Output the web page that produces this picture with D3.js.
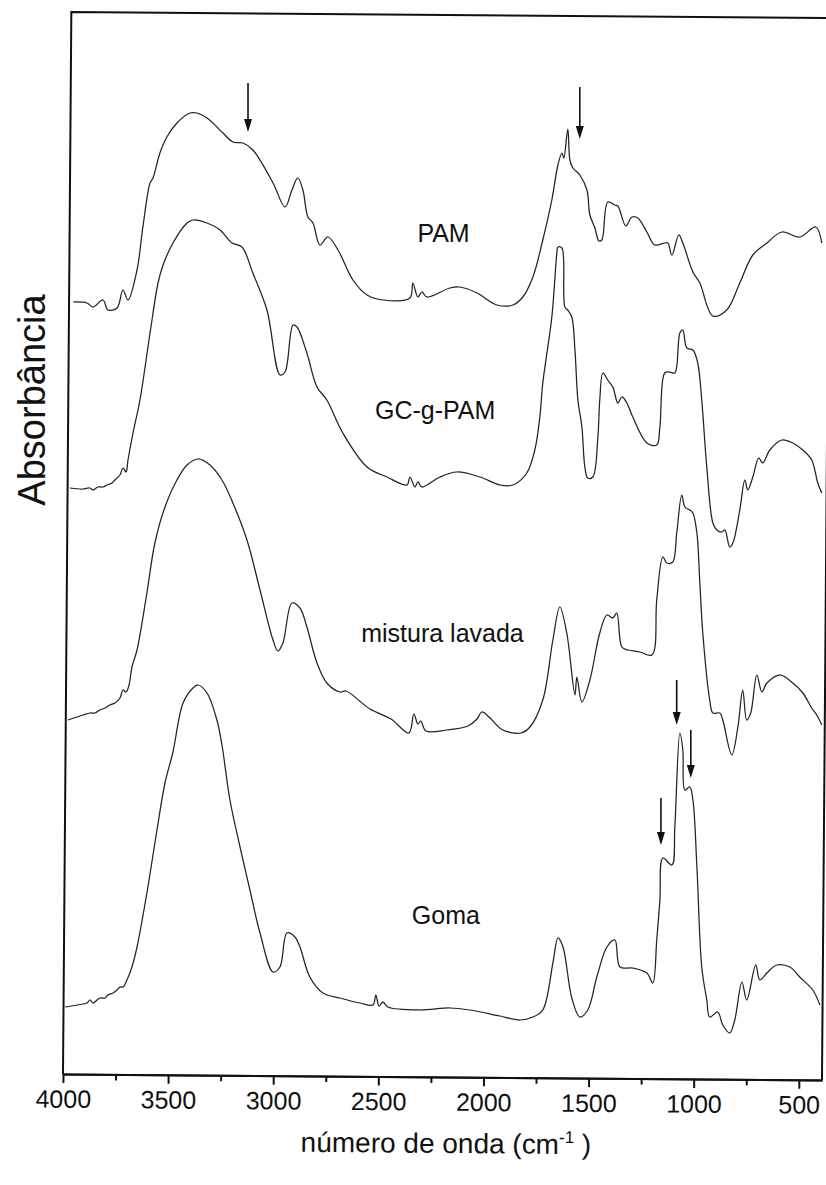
<!DOCTYPE html>
<html lang="pt">
<head>
<meta charset="utf-8">
<title>FTIR</title>
<script src="https://cdn.jsdelivr.net/npm/d3@7"></script>
<style>
  body { margin: 0; background: #fff; }
  svg { display: block; background: #fff; }
  .curve { fill: none; stroke: #222; stroke-width: 1.25; stroke-linejoin: round; }
  .frame { fill: none; stroke: #111; stroke-width: 2; }
  .axis path, .axis line { stroke: #111; stroke-width: 2; }
  .axis text { font-family: "Liberation Sans", Arial, sans-serif; font-size: 25px; fill: #111; }
  .lbl { font-family: "Liberation Sans", Arial, sans-serif; font-size: 25px; fill: #111; }
</style>
</head>
<body>
<svg id="chart"></svg>
<script>
// spectra: [wavenumber (cm-1), absorbance (a.u., stacked)]
var pamData = [
  [3952,7.74],[3886,7.73],[3857,7.69],[3810,7.76],[3786,7.66],[3743,7.68],[3715,7.86],[3691,7.76],
  [3648,8.06],[3620,8.49],[3586,8.93],[3572,8.98],[3539,9.23],[3506,9.39],[3458,9.53],[3396,9.63],
  [3363,9.63],[3315,9.58],[3239,9.43],[3192,9.34],[3144,9.33],[3097,9.26],[3001,8.93],[2944,8.69],
  [2911,8.86],[2883,8.98],[2859,8.86],[2835,8.59],[2811,8.53],[2778,8.31],[2740,8.39],[2692,8.26],
  [2621,7.96],[2554,7.81],[2478,7.76],[2350,7.78],[2336,7.93],[2312,7.79],[2293,7.84],[2269,7.79],
  [2160,7.88],[2112,7.89],[2031,7.83],[1936,7.71],[1860,7.71],[1813,7.79],[1765,7.99],[1718,8.36],
  [1675,8.76],[1646,9.11],[1627,9.23],[1618,9.18],[1599,9.47],[1589,9.16],[1575,9.08],[1542,9.01],
  [1508,8.86],[1494,8.61],[1470,8.48],[1451,8.35],[1437,8.36],[1409,8.74],[1375,8.71],[1361,8.70],
  [1323,8.50],[1294,8.59],[1266,8.58],[1223,8.44],[1185,8.31],[1138,8.33],[1123,8.33],[1104,8.21],
  [1071,8.41],[1052,8.33],[1004,8.04],[971,7.93],[909,7.60],[843,7.66],[781,7.93],[719,8.21],
  [652,8.33],[581,8.44],[496,8.39],[420,8.49],[391,8.33]
];
var gcData = [
  [3967,5.88],[3905,5.87],[3872,5.88],[3857,5.86],[3834,5.89],[3810,5.89],[3791,5.91],[3767,5.93],
  [3753,5.96],[3729,6.01],[3715,6.08],[3700,6.04],[3691,6.16],
  [3667,6.43],[3634,6.76],[3586,7.43],[3548,7.93],[3524,8.11],[3477,8.33],[3410,8.53],[3382,8.56],
  [3315,8.53],[3253,8.46],[3196,8.33],[3149,8.29],[3097,8.03],[3030,7.66],[2968,7.01],[2944,7.04],
  [2906,7.51],[2887,7.49],[2840,7.23],[2792,6.89],[2745,6.76],[2669,6.43],[2554,6.09],[2459,5.99],
  [2364,5.91],[2350,5.99],[2326,5.89],[2312,5.94],[2293,5.89],[2207,5.99],[2127,6.04],[2017,5.99],
  [1922,5.91],[1860,5.91],[1794,6.03],[1756,6.26],[1732,6.59],[1718,6.93],[1675,7.59],[1651,8.23],
  [1646,8.29],[1627,8.28],[1613,7.69],[1599,7.66],[1580,7.59],[1565,7.26],[1551,6.76],[1532,6.49],
  [1518,6.09],[1504,5.98],[1480,5.99],[1456,6.39],[1447,6.76],[1432,7.03],[1409,6.96],[1385,6.89],
  [1361,6.73],[1342,6.79],[1318,6.73],[1290,6.59],[1223,6.33],[1176,6.31],[1161,6.49],[1138,7.03],
  [1114,7.04],[1090,7.03],[1066,7.43],[1052,7.46],[1033,7.28],[1004,7.26],[981,7.13],[962,6.76],
  [938,6.09],[909,5.53],[890,5.46],[867,5.44],[852,5.46],[829,5.29],[814,5.33],[781,5.66],
  [757,5.96],[743,5.86],[719,5.99],[691,6.18],[672,6.13],[638,6.26],[581,6.36],[529,6.33],
  [481,6.26],[439,6.16],[410,5.93],[391,5.83]
];
var misturaData = [
  [3976,3.56],[3905,3.61],[3872,3.63],[3848,3.63],[3824,3.66],[3800,3.68],[3777,3.71],[3753,3.73],
  [3729,3.78],[3715,3.86],[3700,3.84],[3686,3.91],[3672,4.09],
  [3648,4.26],[3601,4.83],[3563,5.33],[3515,5.69],[3458,5.96],[3410,6.11],[3358,6.17],[3301,6.11],
  [3244,5.96],[3192,5.73],[3125,5.36],[3063,4.86],[3001,4.36],[2978,4.25],[2954,4.33],[2911,4.73],
  [2873,4.68],[2840,4.49],[2792,4.13],[2745,3.93],[2683,3.84],[2654,3.85],[2540,3.67],[2440,3.57],
  [2355,3.43],[2331,3.62],[2312,3.52],[2298,3.55],[2274,3.45],[2174,3.46],[2074,3.50],[2031,3.57],
  [2008,3.64],[1974,3.59],[1908,3.46],[1822,3.43],[1779,3.49],[1718,3.76],[1670,4.36],[1637,4.69],
  [1604,4.43],[1565,3.81],[1556,3.99],[1532,3.74],[1494,3.96],[1447,4.43],[1413,4.61],[1385,4.58],
  [1366,4.63],[1342,4.29],[1313,4.26],[1256,4.24],[1199,4.21],[1176,4.76],[1147,5.19],[1128,5.13],
  [1100,5.14],[1081,5.43],[1057,5.81],[1042,5.69],[1019,5.66],[1004,5.63],[985,5.43],[971,4.93],
  [957,4.43],[924,3.76],[909,3.63],[876,3.63],[862,3.56],[819,3.21],[790,3.49],[767,3.86],
  [748,3.56],[729,3.63],[700,4.01],[676,3.84],[652,3.93],[591,4.01],[529,3.93],[481,3.83],
  [439,3.68],[415,3.61],[391,3.51]
];
var gomaData = [
  [3990,0.69],[3933,0.71],[3886,0.73],[3872,0.76],[3857,0.73],[3838,0.76],[3824,0.78],[3800,0.78],
  [3786,0.81],[3762,0.83],[3743,0.86],[3729,0.89],[3715,0.89],[3696,0.96],[3672,1.09],
  [3648,1.29],[3601,1.83],[3553,2.46],[3515,2.93],[3477,3.24],[3429,3.73],[3382,3.88],[3358,3.91],
  [3315,3.83],[3268,3.56],[3244,3.31],[3206,2.76],[3158,2.29],[3111,1.86],[3063,1.43],[3001,1.04],
  [2968,1.09],[2935,1.43],[2897,1.39],[2873,1.29],[2826,0.99],[2764,0.83],[2683,0.78],[2588,0.73],
  [2526,0.71],[2512,0.81],[2497,0.70],[2478,0.74],[2455,0.69],[2302,0.66],[2160,0.68],[2065,0.66],
  [1922,0.60],[1827,0.56],[1765,0.59],[1718,0.66],[1670,1.13],[1646,1.38],[1622,1.29],[1580,0.78],
  [1542,0.59],[1504,0.66],[1461,0.99],[1413,1.29],[1375,1.36],[1351,1.09],[1290,1.08],[1223,1.03],
  [1195,0.93],[1176,1.36],[1161,1.76],[1147,2.18],[1104,2.11],[1090,2.49],[1066,3.43],[1052,3.26],
  [1042,2.86],[1019,2.89],[1004,2.76],[985,2.09],[962,1.09],[938,0.76],[924,0.59],[886,0.64],
  [862,0.51],[829,0.43],[805,0.56],[771,0.94],[748,0.76],[705,1.11],[686,0.96],[652,1.03],
  [605,1.11],[543,1.09],[496,0.99],[434,0.86],[400,0.71]
];
var seriesNames = ["PAM", "GC-g-PAM", "mistura lavada", "Goma"];
// arrows: [wavenumber, top absorbance, tip absorbance]
var arrowMarks = [
  [3120, 9.93, 9.44], [1542, 9.89, 9.37],
  [1156, 2.78, 2.31], [1081, 3.96, 3.51], [1014, 3.46, 2.98]
];
var xTicks = [4000, 3500, 3000, 2500, 2000, 1500, 1000, 500];
var xMinorTicks = [3750, 3250, 2750, 2250, 1750, 1250, 750];

var W = 826, H = 1185;
var pLeft = 63, pRight = 822, pTop = 12, pBottom = 1074;

var svg = d3.select("#chart").attr("width", W).attr("height", H);

var x = d3.scaleLinear().domain([4000, 390]).range([pLeft, pRight]);
var y = d3.scaleLinear().domain([0, 10.64]).range([1076, pTop]);

// scanned page is tilted a little, the frame follows it
var frame = svg.append("g")
    .attr("transform", "rotate(0.45," + pLeft + "," + pBottom + ")");

frame.append("g")
    .attr("class", "axis")
    .attr("transform", "translate(0," + pBottom + ")")
    .call(d3.axisBottom(x).tickValues(xMinorTicks).tickSize(6).tickSizeOuter(0).tickFormat(""));

frame.append("g")
    .attr("class", "axis")
    .attr("transform", "translate(0," + pBottom + ")")
    .call(d3.axisBottom(x).tickValues(xTicks).tickSize(9).tickSizeOuter(0).tickPadding(7)
        .tickFormat(d3.format("d")));

frame.append("path")
    .attr("class", "frame")
    .attr("d", "M" + pLeft + "," + pBottom + "V" + pTop + "H" + pRight + "V" + pBottom);

var xTitle = frame.append("text")
    .attr("x", (pLeft + pRight) / 2 + 4)
    .attr("y", 1150)
    .attr("text-anchor", "middle")
    .style("font-family", "Liberation Sans, Arial, sans-serif")
    .style("font-size", "28px")
    .attr("fill", "#111");
xTitle.append("tspan").text("número de onda (cm");
xTitle.append("tspan").attr("dy", -11).style("font-size", "17px").text("-1");
xTitle.append("tspan").attr("dy", 11).text(" )");

svg.append("text")
    .attr("transform", "translate(45,400) rotate(-90)")
    .attr("text-anchor", "middle")
    .style("font-family", "Liberation Sans, Arial, sans-serif")
    .style("font-size", "38px")
    .attr("fill", "#111")
    .text("Absorbância");

var line = d3.line()
    .curve(d3.curveCatmullRom.alpha(0.5))
    .x(function(d) { return x(d[0]); })
    .y(function(d) { return y(d[1]); });

var allSeries = [pamData, gcData, misturaData, gomaData];

svg.selectAll(".curve")
    .data(allSeries)
    .enter().append("path")
    .attr("class", "curve")
    .attr("d", line);

// label anchors [wavenumber, absorbance]
var labelPos = [[2190, 8.43], [2230, 6.66], [2195, 4.43], [2179, 1.61]];
svg.selectAll(".lbl")
    .data(seriesNames)
    .enter().append("text")
    .attr("class", "lbl")
    .attr("x", function(d, i) { return x(labelPos[i][0]); })
    .attr("y", function(d, i) { return y(labelPos[i][1]); })
    .attr("dy", "0.35em")
    .attr("text-anchor", "middle")
    .text(function(d) { return d; });

var arrows = svg.selectAll(".arrow")
    .data(arrowMarks)
    .enter().append("g")
    .attr("class", "arrow");

arrows.append("line")
    .attr("x1", function(d) { return x(d[0]); })
    .attr("x2", function(d) { return x(d[0]); })
    .attr("y1", function(d) { return y(d[1]); })
    .attr("y2", function(d) { return y(d[2]) - 8; })
    .attr("stroke", "#111")
    .attr("stroke-width", 1.6);

arrows.append("path")
    .attr("fill", "#111")
    .attr("d", function(d) {
        var px = x(d[0]), py = y(d[2]);
        return "M" + (px - 4) + "," + (py - 13) + "L" + (px + 4) + "," + (py - 13) + "L" + px + "," + py + "Z";
    });
</script>
</body>
</html>
